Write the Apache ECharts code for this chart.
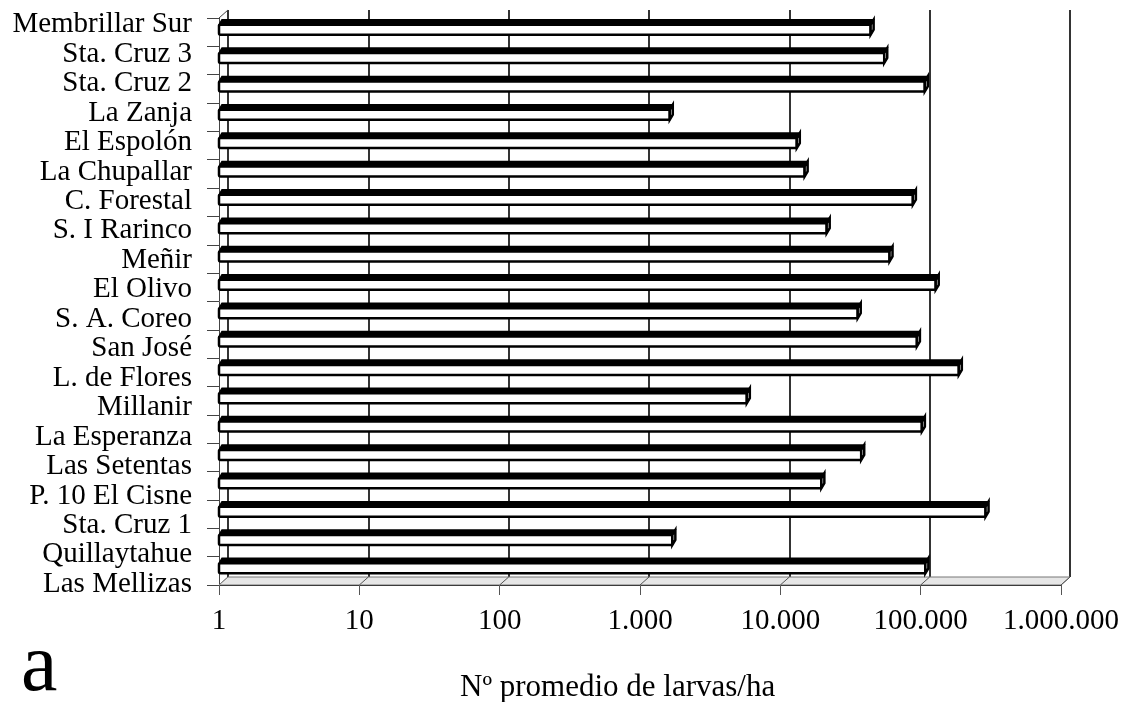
<!DOCTYPE html>
<html>
<head>
<meta charset="utf-8">
<script src="https://cdn.jsdelivr.net/npm/echarts@6/dist/echarts.min.js"></script>
<style>
  html, body { margin: 0; padding: 0; background: #fff; }
  #chart { width: 1123px; height: 702px; }
</style>
</head>
<body>
<div id="chart"></div>
<script>
// sitios, de arriba hacia abajo
var sitios = ['Membrillar Sur', 'Sta. Cruz 3', 'Sta. Cruz 2', 'La Zanja', 'El Espolón',
  'La Chupallar', 'C. Forestal', 'S. I Rarinco', 'Meñir', 'El Olivo', 'S. A. Coreo',
  'San José', 'L. de Flores', 'Millanir', 'La Esperanza', 'Las Setentas',
  'P. 10 El Cisne', 'Sta. Cruz 1', 'Quillaytahue', 'Las Mellizas'];
// Nº promedio de larvas/ha (escala log)
var larvas = [44000, 55000, 107000, 1630, 13100, 14900, 88000, 21400, 60000, 128000,
  35600, 94000, 187000, 5770, 102000, 37700, 19600, 290000, 1700, 108000];
var decadas = [1, 10, 100, 1000, 10000, 100000, 1000000];

var FONT = 'Liberation Serif';

function miles(v) {
  return String(Math.round(v)).replace(/\B(?=(\d{3})+(?!\d))/g, '.');
}

// barra con cara superior y tapa (pseudo 3D)
function renderBarra(params, api) {
  var idx = api.value(1);
  var p0 = api.coord([1, idx]);
  var p1 = api.coord([api.value(0), idx]);
  var c = p0[1];
  var x0 = p0[0], x1 = p1[0];
  var d = 3;
  var top = c - 12.5, mid = c - 7.5, bot = c + 2.5;
  return {
    type: 'group',
    children: [
      { type: 'polygon', shape: { points: [[x0, mid], [x0 + d, top], [x1 + d, top], [x1, mid]] },
        style: { fill: '#000', stroke: '#000', lineWidth: 1.5 } },
      { type: 'rect', shape: { x: x0, y: mid, width: x1 - x0, height: bot - mid, r: 1.5 },
        style: { fill: '#fff', stroke: '#000', lineWidth: 2.5 } },
      { type: 'polygon', shape: { points: [[x1, mid], [x1 + d, top], [x1 + d, bot - 5], [x1, bot]] },
        style: { fill: '#fff', stroke: '#000', lineWidth: 2.5 } }
    ]
  };
}

// piso y aristas del muro
function renderPiso(params, api) {
  var cs = params.coordSys;
  var v = api.value(0);
  var x = api.coord([v, 0])[0];
  var yb = cs.y + cs.height;
  var dx = 9, dy = 8;
  var kids = [
    { type: 'line', shape: { x1: x, y1: yb, x2: x + dx, y2: yb - dy },
      style: { stroke: '#555', lineWidth: 1 } }
  ];
  if (params.dataIndex === 0) {
    kids.push({ type: 'polygon',
      shape: { points: [[cs.x, yb], [cs.x + dx, yb - dy], [cs.x + cs.width + dx, yb - dy], [cs.x + cs.width, yb]] },
      style: { fill: '#e6e6e6', stroke: '#777', lineWidth: 1 } });
    kids.push({ type: 'line', shape: { x1: cs.x, y1: cs.y, x2: cs.x + dx, y2: cs.y - dy },
      style: { stroke: '#444', lineWidth: 1 } });
  }
  return { type: 'group', children: kids };
}

var chart = echarts.init(document.getElementById('chart'));
chart.setOption({
  animation: false,
  backgroundColor: '#fff',
  title: [
    { text: 'a', left: 16, top: 622,
      textStyle: { fontFamily: FONT, fontSize: 82, fontWeight: 'normal', color: '#000' } },
    { text: 'Nº promedio de larvas/ha', left: 455, top: 667,
      textStyle: { fontFamily: FONT, fontSize: 31, fontWeight: 'normal', color: '#000' } }
  ],
  grid: [
    { left: 219, right: 62, top: 18, bottom: 117 },   // plano frontal
    { left: 228, right: 53, top: 10, bottom: 125 },   // muro del fondo
    { left: 219, right: 62, top: 10, bottom: 103 }    // etiquetas
  ],
  xAxis: [
    { type: 'log', gridIndex: 0, logBase: 10, min: 1, max: 1000000,
      axisLine: { show: true, lineStyle: { color: '#000', width: 1 } },
      axisTick: { show: true, length: 10, lineStyle: { color: '#555' } },
      splitLine: { show: false },
      axisLabel: { fontFamily: FONT, fontSize: 29, color: '#000', margin: 22, formatter: miles } },
    { type: 'log', gridIndex: 1, logBase: 10, min: 1, max: 1000000,
      axisLine: { show: false }, axisTick: { show: false }, axisLabel: { show: false },
      splitLine: { show: true, showMinLine: true, showMaxLine: true, lineStyle: { color: '#000', width: 1.6 } } },
    { type: 'log', gridIndex: 2, logBase: 10, min: 1, max: 1000000, show: false }
  ],
  yAxis: [
    { type: 'category', gridIndex: 0, data: sitios, inverse: true,
      axisLine: { show: true, lineStyle: { color: '#444', width: 1 } },
      axisTick: { show: true, length: 12, interval: 0, lineStyle: { color: '#444' } },
      axisLabel: { show: false } },
    { type: 'category', gridIndex: 1, data: sitios, inverse: true, show: false },
    { type: 'category', gridIndex: 2, data: sitios, inverse: true,
      axisLine: { show: false }, axisTick: { show: false },
      axisLabel: { fontFamily: FONT, fontSize: 29, color: '#000', margin: 27, interval: 0 } }
  ],
  series: [
    { type: 'custom', name: 'piso', xAxisIndex: 0, yAxisIndex: 0, z: 1,
      data: decadas.map(function (v) { return [v, 0]; }),
      renderItem: renderPiso, silent: true },
    { type: 'custom', name: 'larvas', xAxisIndex: 0, yAxisIndex: 0, z: 5,
      data: larvas.map(function (v, i) { return [v, i]; }),
      encode: { x: 0, y: 1 },
      renderItem: renderBarra }
  ]
});
</script>
</body>
</html>
